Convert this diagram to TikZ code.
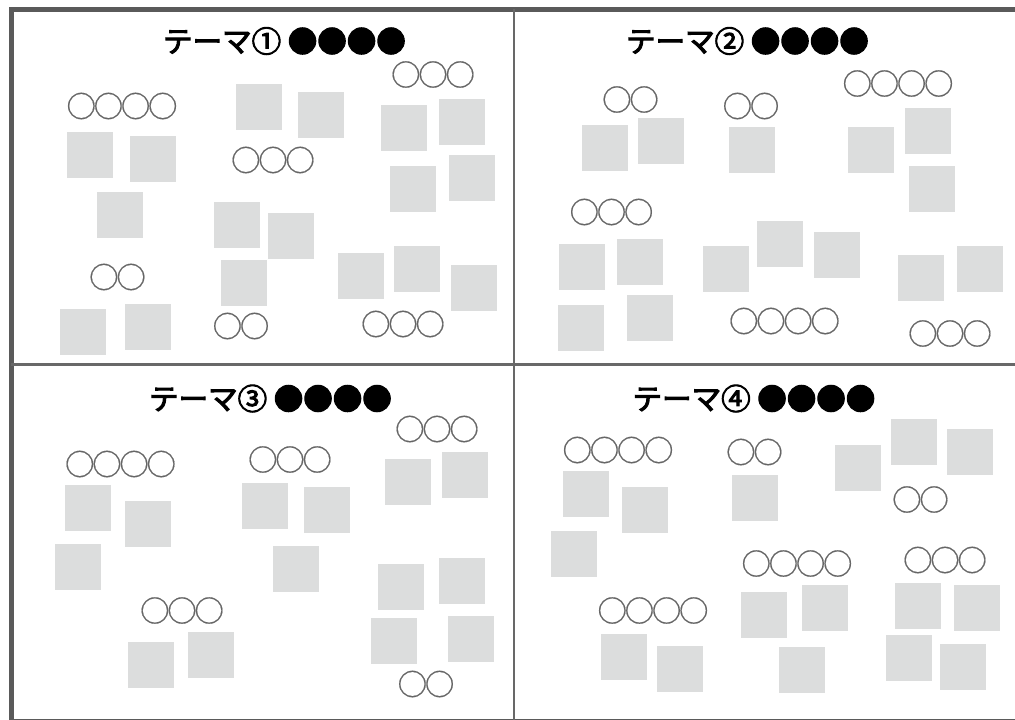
\documentclass[tikz,border=0pt]{standalone}
\usepackage{fontspec}
\newfontfamily\jptitle{Noto Sans CJK JP}
\newfontfamily\jpmark{Noto Sans CJK JP}[LetterSpace=-8, FakeBold=0.5]
\definecolor{notegray}{HTML}{DCDDDD}
\definecolor{framegray}{HTML}{5A5A5A}
\definecolor{dividergray}{HTML}{686868}
\definecolor{markgray}{HTML}{666666}
% heavier strokes for the theme titles
\newcommand\heavytext[1]{\special{pdf:literal direct 2 Tr 1 w}#1\special{pdf:literal direct 0 Tr}}

\begin{document}
\begin{tikzpicture}[x=1pt, y=-1pt]

  % Styles for titles, circle marks and sticky notes
  \tikzset{
    theme/.style={inner sep=0pt, text=black,
      font=\jptitle\fontsize{29.5}{29.5}\selectfont},
    marks/.style={inner sep=0pt, text=markgray,
      font=\jpmark\fontsize{29.5}{29.5}\selectfont},
    note/.style={fill=notegray}
  }

  \useasboundingbox (0,0) rectangle (1015,720);

  % Sticky notes (top-left corners)
  \foreach \x/\y in {236/84, 298/92, 381/105, 439/99, 67/132, 130/136,
      390/166, 449/155, 97/192, 214/202, 268/213, 221/260, 338/253,
      394/246, 451/265, 60/309, 125/304}
    \fill[note] (\x,\y) rectangle ++(46,46);
  \foreach \x/\y in {582/125, 638/118, 729/127, 848/127, 905/108, 909/166,
      559/244, 617/239, 703/246, 757/221, 814/232, 898/255, 957/246,
      558/305, 627/295}
    \fill[note] (\x,\y) rectangle ++(46,46);
  \foreach \x/\y in {65/485, 125/501, 55/544, 242/483, 304/487, 273/546,
      385/459, 442/452, 378/564, 439/558, 371/618, 448/616, 128/642,
      188/632}
    \fill[note] (\x,\y) rectangle ++(46,46);
  \foreach \x/\y in {563/471, 622/487, 551/531, 732/475, 835/445, 891/419,
      947/429, 741/592, 802/585, 779/647, 895/583, 954/585, 886/635,
      940/644, 601/634, 657/646}
    \fill[note] (\x,\y) rectangle ++(46,46);

  % Frame and dividers
  \draw[framegray, line width=5pt] (11,9) rectangle (1021,721.5);
  \draw[dividergray, line width=2.5pt] (514,9) -- (514,721);
  \draw[dividergray, line width=2.5pt] (11,364.5) -- (1021,364.5);

  % Theme titles
  \node[theme] (theme1) at (284.5,41) {\heavytext{テーマ① ●●●●}};
  \node[theme] (theme2) at (747.5,41) {\heavytext{テーマ② ●●●●}};
  \node[theme] (theme3) at (270.5,398.5) {\heavytext{テーマ③ ●●●●}};
  \node[theme] (theme4) at (754,398.5) {\heavytext{テーマ④ ●●●●}};

  % Circle marks
  \foreach \x/\y/\t [count=\i] in {433/74.5/○○○, 122/106/○○○○,
      273/160/○○○, 117.5/277/○○, 241/326/○○, 403/324/○○○,
      630.5/99.5/○○, 751/106/○○, 898/83.5/○○○○, 611.5/212/○○○,
      784.5/321/○○○○, 950/333.5/○○○,
      437/429/○○○, 120.5/464/○○○○, 290/459.5/○○○, 182/610.5/○○○,
      426/684/○○,
      618/450/○○○○, 754.5/452/○○, 920.5/499.5/○○, 797/563.5/○○○○,
      945/560/○○○, 653/610.5/○○○○}
    \node[marks] (mark\i) at (\x,\y) {\t};

\end{tikzpicture}
\end{document}
